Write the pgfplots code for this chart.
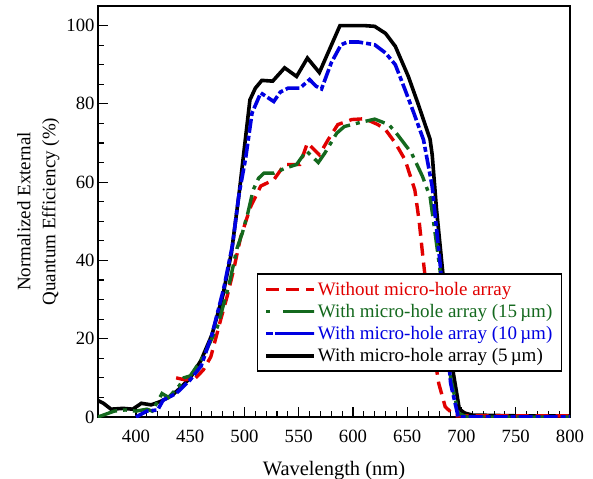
\documentclass[border=0pt]{standalone}
\usepackage{fontspec}
\setmainfont{Liberation Serif}
\usepackage{pgfplots}
\pgfplotsset{compat=1.18}

\definecolor{qred}{RGB}{225,0,0}
\definecolor{qgreen}{RGB}{20,105,30}
\definecolor{qblue}{RGB}{0,0,225}

\begin{document}
\begin{tikzpicture}
\begin{axis}[
    scale only axis,
    width=472bp, height=411bp,
    xmin=365, xmax=800,
    ymin=0, ymax=105,
    xtick={400,450,...,800},
    ytick={0,20,...,100},
    minor x tick num=4,
    minor y tick num=3,
    xtick pos=bottom, ytick pos=left,
    tick align=inside,
    major tick length=10bp, minor tick length=6bp,
    axis line style={line width=1.4bp},
    every tick/.style={line width=1.1bp, black},
    tick label style={font=\fontsize{18.7bp}{22bp}\selectfont},
    xticklabel style={anchor=base, yshift=-25bp},
    /pgf/number format/assume math mode=true,
    xlabel={Wavelength (nm)},
    xlabel style={at={(rel axis cs:0.5,0)}, anchor=base, yshift=-58bp,
        font=\fontsize{20.5bp}{24bp}\selectfont},
    ylabel={Normalized External\\Quantum Efficiency (\%)},
    ylabel style={align=center, font=\fontsize{19bp}{25bp}\selectfont},
    legend style={at={(rel axis cs:0.983,0.11)}, anchor=south east,
        draw=black, line width=1.3bp, inner xsep=7bp, inner ysep=6bp,
        font=\fontsize{19bp}{22bp}\selectfont, row sep=3.5bp},
    legend cell align=left,
    legend image code/.code={\draw[#1] (0bp,0bp) -- (48bp,0bp);},
]
% 5 um
\addplot[black, line width=3.6bp, forget plot] coordinates {
(365,4.2)(370,3.5)(377,2.0)(388,2.2)(397,2.0)(405,3.5)(414,3.1)(422,3.9)
(430,5)(435,6)(440,7.2)(450,10)(460,14.5)(470,21)(480,31)(488,42)(495,57)
(500,69)(505,81)(510,84)(516,86)(526,85.8)(537,89.2)(548,87)(558,91.7)
(569,88)(588,100)(600,100)(610,100)(620,99.8)(630,98)(639,94.7)(651,87)
(660,80)(671,71)(673,67)(677,53)(682,39)(687,25)(692,12)(698,2)(703,1)
(710,0.5)(750,0.3)(800,0.3)};
% without
\addplot[qred, line width=3.4bp, dash pattern=on 13bp off 7bp, forget plot] coordinates {
(437,10)(445,9.5)(455,10)(462,12)(469,15.4)(478,24.8)(484,30.8)(490,37.6)
(496.5,46)(505.8,53.8)(515,59)(527,60.6)(537,64.5)(551,64.5)(558,70)
(569,67)(577,70.8)(586,74.7)(599,76)(611,76.2)(623,74.7)(630,73.4)(639,70)
(648,65.7)(657,58)(661,50)(664,42)(668,32)(672,22)(676,14)(679,8.6)
(685,2.6)(694,0.3)(800,0.3)};
% 15 um
\addplot[qgreen, line width=3.4bp, dash pattern=on 20bp off 6bp on 4bp off 6bp, forget plot] coordinates {
(365,0)(370,0.5)(380,1.5)(390,1.8)(400,1.5)(410,2)(415,1.5)(424,6)(430,5)
(440,8)(444,10)(450,10.5)(462,15.4)(475,23)(486,34)(493,43)(498,47)
(503,52)(508,58)(513,61)(518,62.3)(527,62.3)(538,63.6)(548,64.5)(557,68)
(568,65)(574,67.4)(585,72.5)(592,74.2)(603,75)(620,76.1)(633,74.7)
(640,72.5)(654,67.4)(664,61.5)(671,56.3)(674,50.4)(680,38)(685,25)
(690,10)(697,1)(705,0)(800,0)};
% 10 um
\addplot[qblue, line width=3.6bp, dash pattern=on 14bp off 3bp on 5bp off 3bp, forget plot] coordinates {
(400,0)(410,1.5)(420,1.8)(425,4.3)(437,6)(450,9.5)(460,13)(470,21)(481,33)
(489,44)(495,57)(501,66)(507,77.7)(515,82.8)(522,81.5)(527,80.6)(533,83)
(540,84)(551,84)(560,86.2)(566,84.5)(571,83.8)(580,90.5)(589,95.1)
(595,95.8)(605,95.8)(620,95.1)(630,93)(639,90)(648,83.6)(656,77.7)
(665,70.8)(673,58.9)(680,40)(685,25)(690,8.6)(697,0)(800,0)};

\addlegendimage{qred, line width=3.4bp, dash pattern=on 13bp off 7bp}
\addlegendentry{\textcolor{qred}{Without micro-hole array}}
\addlegendimage{qgreen, line width=3.4bp, dash pattern=on 4bp off 13bp on 31bp off 0bp}
\addlegendentry{\textcolor{qgreen}{With micro-hole array (15\,µm)}}
\addlegendimage{qblue, line width=3.6bp, dash pattern=on 7bp off 2bp on 39bp off 0bp}
\addlegendentry{\textcolor{qblue}{With micro-hole array (10\,µm)}}
\addlegendimage{black, line width=3.6bp}
\addlegendentry{With micro-hole array (5\,µm)}
\end{axis}
\pgfresetboundingbox
\path (-98bp,-62bp) rectangle (495bp,417bp);
\end{tikzpicture}
\end{document}
